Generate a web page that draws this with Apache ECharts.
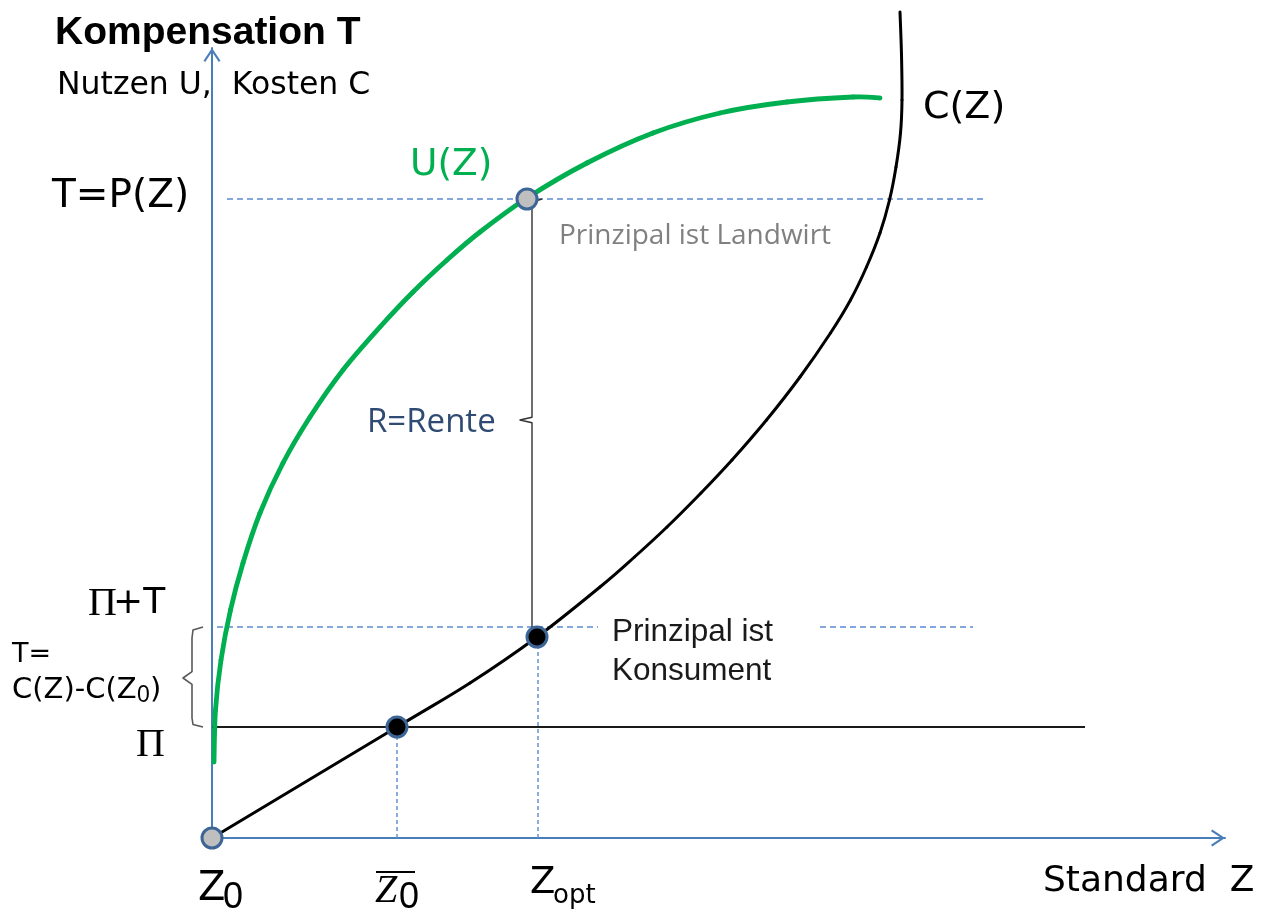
<!DOCTYPE html>
<html><head><meta charset="utf-8">
<script src="https://cdn.jsdelivr.net/npm/echarts@6/dist/echarts.min.js"></script>
<style>html,body{margin:0;padding:0;background:#fff}#c{width:1270px;height:915px}</style>
</head><body><div id="c"></div>
<script>
// ---- data (x: Standard Z, y: Kompensation / Nutzen / Kosten) ----
const uCurve = [[0.2,9.5],[0.35,16.0],[0.9,22.25],[1.85,28.5],[3.1,34.375],[4.8,40.625],[7.1,46.875],[9.8,52.625],[13.1,58.5],[16.8,63.875],[20.1,68.25],[23.5,72.25],[26.8,75.75],[31.5,80.0],[37.5,84.375],[44.1,88.125],[50.8,90.625],[57.5,92.0],[64.1,92.625],[66.8,92.5]];
const cCurve = [[0,0],[18.5,13.875],[25.8,19.375],[32.5,25.125],[38.8,31.375],[42.25,35.125],[45.5,38.875],[48.9,43.125],[52.0,47.25],[55.45,52.25],[58.8,57.625],[61.85,63.125],[63.85,67.25],[65.45,71.375],[66.8,75.625],[67.75,79.75],[68.4,83.875],[68.85,88.125],[69.0,92.25],[68.95,97.875],[68.8,103.25]];
const PI = 13.875, PI_T = 26.375, TP = 79.875;
const piLine = [[0,PI],[87.3,PI]];
const piTDashA = [[0.5,PI_T],[38.6,PI_T]];
const piTDashB = [[60.8,PI_T],[76.1,PI_T]];
const tpDash = [[1.5,TP],[77.3,TP]];
const renteBrace = [[33.0,TP],[32.0,TP-0.4],[32.0,52.6],[30.8,52.25],[32.0,51.9],[32.0,25.5]];
const braceT = [[-0.9,26.375],[-1.9,26.0],[-2.0,25.0],[-2.0,20.8],[-2.9,20.0],[-2.0,19.2],[-2.0,15.0],[-1.9,14.2],[-0.9,13.875]];
const z0barDrop = [[18.5,0],[18.5,PI]];
const zoptDrop = [[32.6,0],[32.6,25.125]];
const grayPoints = [[0,0],[31.5,79.875]];
const blackPoints = [[18.5,13.875],[32.5,25.125]];
const X_MAX = 101.3, Y_MAX = 98.75;

const AXIS = '#4a7ebb', DASH = '#5b8bd0';
const chart = echarts.init(document.getElementById('c'), null, {renderer:'canvas'});
const arrow = 'path://M0,12 L8,0 L16,12 L14.4,13.2 L8,3.6 L1.6,13.2 Z';
function ln(data, color, width, type, z){
  return {type:'line', data, symbol:'none', clip:false, silent:true, z:z||2, animation:false,
          lineStyle:{color, width, type:type||'solid'}};
}
// Catmull-Rom spline through the data points, positioned with the chart's own scales (api.coord)
function spline(data, color, width, z){
  return {type:'custom', data, clip:false, silent:true, z, animation:false,
    encode:{x:0, y:1},
    renderItem:function(params, api){
      const i = params.dataIndex, n = data.length;
      if (i >= n - 1) return null;
      const P = k => api.coord(data[Math.max(0, Math.min(n - 1, k))]);
      const p0 = P(i - 1), p1 = P(i), p2 = P(i + 1), p3 = P(i + 2);
      return {type:'bezierCurve', shape:{
          x1:p1[0], y1:p1[1], x2:p2[0], y2:p2[1],
          cpx1:p1[0] + (p2[0] - p0[0]) / 6, cpy1:p1[1] + (p2[1] - p0[1]) / 6,
          cpx2:p2[0] - (p3[0] - p1[0]) / 6, cpy2:p2[1] - (p3[1] - p1[1]) / 6},
        style:{stroke:color, fill:'none', lineWidth:width, lineCap:'round'}};
    }};
}
function poly(data, color, width, z){
  return {type:'custom', data, clip:false, silent:true, z, animation:false,
    encode:{x:0, y:1},
    renderItem:function(params, api){
      if (params.dataIndex !== 0) return null;
      return {type:'polyline', shape:{points:data.map(p => api.coord(p))},
        style:{stroke:color, fill:'none', lineWidth:width, lineJoin:'round'}};
    }};
}
function txt(x, y, text, font, fill, align){
  return {type:'text', x, y, z:100, silent:true,
          style:{text, font, fill:fill||'#000', align:align||'left', verticalAlign:'middle'}};
}
const DV = '"DejaVu Sans"', LS = '"Liberation Sans"', SERIF = '"Liberation Serif"', OS = '"Open Sans"';
const option = {
  backgroundColor:'#fff',
  animation:false,
  grid:{left:212, top:48, width:1013, height:790, containLabel:false},
  xAxis:{type:'value', min:0, max:X_MAX, splitLine:{show:false}, axisTick:{show:false}, axisLabel:{show:false},
    axisLine:{onZero:false, lineStyle:{color:AXIS, width:2}, symbol:['none', arrow], symbolSize:[17,14], symbolOffset:[0,-7]}},
  yAxis:{type:'value', min:0, max:Y_MAX, splitLine:{show:false}, axisTick:{show:false}, axisLabel:{show:false},
    axisLine:{onZero:false, lineStyle:{color:AXIS, width:2}, symbol:['none', arrow], symbolSize:[17,14], symbolOffset:[0,-7]}},
  series:[
    ln(tpDash, DASH, 1.4, [6,4], 1),
    ln(piTDashA, DASH, 1.4, [6,4], 1),
    ln(piTDashB, DASH, 1.4, [6,4], 1),
    ln(z0barDrop, DASH, 1.4, [4,3], 1),
    ln(zoptDrop, DASH, 1.4, [4,3], 1),
    ln(piLine, '#1a1a1a', 2.2, 'solid', 2),
    poly(renteBrace, '#333', 1.4, 2),
    poly(braceT, '#595959', 1.6, 2),
    spline(cCurve, '#000', 3, 3),
    spline(uCurve, '#00b050', 4.8, 4),
    {type:'scatter', data:grayPoints, symbolSize:20, z:6, silent:true,
     itemStyle:{color:'#bfbfbf', borderColor:'#3d6596', borderWidth:3, opacity:1}},
    {type:'scatter', data:blackPoints, symbolSize:20, z:6, silent:true,
     itemStyle:{color:'#000', borderColor:'#3d6596', borderWidth:3, opacity:1}}
  ],
  graphic:{elements:[
    txt(55, 33, 'Kompensation T', 'bold 39px ' + LS),
    txt(57, 86, 'Nutzen U,  Kosten C', '31.5px ' + DV),
    txt(52, 197, 'T=P(Z)', '39px ' + DV),
    txt(410, 165, 'U(Z)', '37.5px ' + DV, '#00b050'),
    txt(923, 108, 'C(Z)', '38px ' + DV),
    txt(559, 236, 'Prinzipal ist Landwirt', '28px ' + OS, '#808080'),
    txt(367, 423, 'R=Rente', '33px ' + OS, '#2f4b73'),
    txt(612, 632, 'Prinzipal ist', '31.5px ' + LS, '#1a1a1a'),
    txt(612, 671, 'Konsument', '31.5px ' + LS, '#1a1a1a'),
    txt(88, 604, 'Π', '40px ' + SERIF),
    txt(113, 604, '+T', '36px ' + DV),
    txt(12, 655, 'T=', '27px ' + DV),
    txt(12, 690, 'C(Z)-C(Z', '29px ' + DV),
    txt(137, 696, '0', '23px ' + LS),
    txt(150, 690, ')', '29px ' + DV),
    txt(136, 745, 'Π', '40px ' + SERIF),
    txt(198, 890, 'Z', '40px ' + DV),
    txt(223, 898, '0', '36px ' + LS),
    txt(375, 891, 'Z', 'italic 40px ' + SERIF),
    txt(399, 898, '0', '36px ' + LS),
    {type:'line', z:100, silent:true, shape:{x1:376, y1:872, x2:415, y2:872}, style:{stroke:'#000', lineWidth:2}},
    txt(530, 883, 'Z', '37px ' + DV),
    txt(553, 896, 'opt', '26px ' + DV),
    txt(1043, 882, 'Standard  Z', '36px ' + DV)
  ]}
};
chart.setOption(option);
</script></body></html>
